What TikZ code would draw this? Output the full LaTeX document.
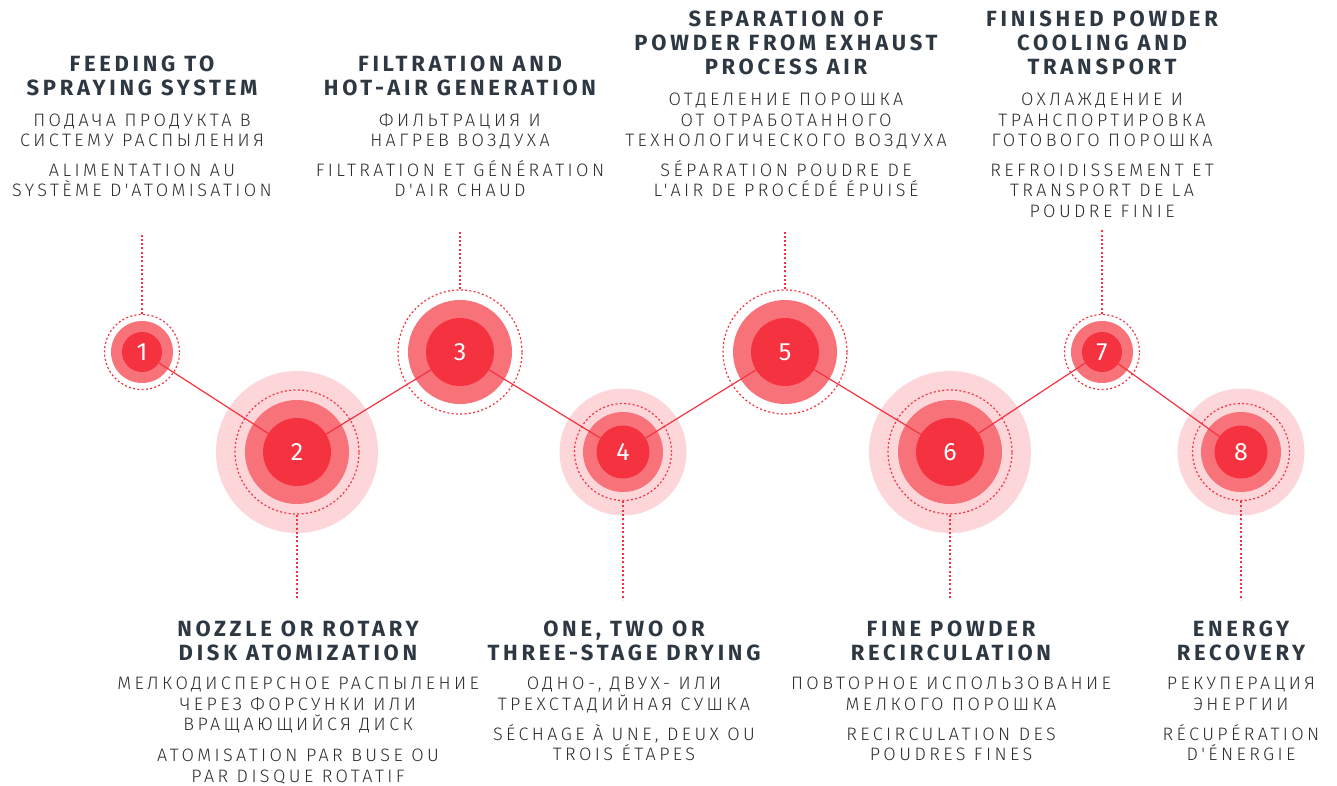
\documentclass[tikz,border=0pt]{standalone}
\usepackage{fontspec}
\newfontfamily\titlef{Fira Sans}[LetterSpace=17]
\newfontfamily\bodyf{Fira Sans Light}[LetterSpace=19]
\newfontfamily\numf{Fira Sans}
\definecolor{redA}{RGB}{245,50,64}
\definecolor{redB}{RGB}{248,114,122}
\definecolor{redC}{RGB}{253,214,218}
\definecolor{ink}{RGB}{46,56,66}
\definecolor{bodygray}{RGB}{45,45,45}
\tikzset{
  palec/.style={circle, fill=redC, inner sep=0pt, minimum size=#1},
  midc/.style={circle, fill=redB, inner sep=0pt, minimum size=#1},
  ringc/.style={circle, draw=redA, line width=1.2pt, dash pattern=on 2pt off 2.3pt, inner sep=0pt, minimum size=#1},
  numc/.style={circle, fill=redA, inner sep=0pt, minimum size=#1, text=white, font=\numf\fontsize{25}{25}\selectfont},
  conn/.style={draw=redA, line width=1.2pt},
  vline/.style={draw=redA, line width=1.2pt, dash pattern=on 2pt off 2.3pt},
  ttl/.style={font={\titlef\bfseries\fontsize{22}{24}\selectfont}, text=ink, align=center, inner sep=0pt, anchor=north},
  bdy/.style={font={\bodyf\fontsize{18}{20.5}\selectfont}, text=bodygray, align=center, inner sep=0pt, anchor=north},
}
\newcommand{\fl}{\rule{0pt}{20pt}}
\begin{document}
\begin{tikzpicture}[x=1pt,y=-1pt]
\useasboundingbox (0,0) rectangle (1337,785);
% halos
\node[palec=162pt] (p2) at (297,452) {};
\node[palec=127pt] (p4) at (623,452) {};
\node[palec=162pt] (p6) at (950,452) {};
\node[palec=127pt] (p8) at (1241,452) {};
% middle discs
\node[midc=62pt] (m1) at (142,352) {};
\node[midc=104pt] (m2) at (297,452) {};
\node[midc=104pt] (m3) at (460,352) {};
\node[midc=80pt] (m4) at (623,452) {};
\node[midc=104pt] (m5) at (785,352) {};
\node[midc=104pt] (m6) at (950,452) {};
\node[midc=62pt] (m7) at (1102,352) {};
\node[midc=80pt] (m8) at (1241,452) {};
% dotted rings
\node[ringc=75pt] (r1) at (142,352) {};
\node[ringc=124pt] (r2) at (297,452) {};
\node[ringc=124pt] (r3) at (460,352) {};
\node[ringc=97pt] (r4) at (623,452) {};
\node[ringc=124pt] (r5) at (785,352) {};
\node[ringc=124pt] (r6) at (950,452) {};
\node[ringc=75pt] (r7) at (1102,352) {};
\node[ringc=97pt] (r8) at (1241,452) {};
% leader ends
\coordinate (e1) at (142,233);
\coordinate (e3) at (460,230);
\coordinate (e5) at (785,230);
\coordinate (e7) at (1102,230);
\coordinate (e2) at (297,600);
\coordinate (e4) at (623,600);
\coordinate (e6) at (950,600);
\coordinate (e8) at (1241,600);
\draw[vline] (r1.north) -- (e1);
\draw[vline] (r3.north) -- (e3);
\draw[vline] (r5.north) -- (e5);
\draw[vline] (r7.north) -- (e7);
\draw[vline] (r2.south) -- (e2);
\draw[vline] (r4.south) -- (e4);
\draw[vline] (r6.south) -- (e6);
\draw[vline] (r8.south) -- (e8);
% number discs
\node[numc=40pt] (n1) at (142,352) {1};
\node[numc=68pt] (n2) at (297,452) {2};
\node[numc=68pt] (n3) at (460,352) {3};
\node[numc=53pt] (n4) at (623,452) {4};
\node[numc=68pt] (n5) at (785,352) {5};
\node[numc=68pt] (n6) at (950,452) {6};
\node[numc=40pt] (n7) at (1102,352) {7};
\node[numc=53pt] (n8) at (1241,452) {8};
% connectors
\draw[conn] (n1) -- (n2);
\draw[conn] (n2) -- (n3);
\draw[conn] (n3) -- (n4);
\draw[conn] (n4) -- (n5);
\draw[conn] (n5) -- (n6);
\draw[conn] (n6) -- (n7);
\draw[conn] (n7) -- (n8);
% column 1
\node[ttl] (t1) at (142,51) {\fl FEEDING TO\\SPRAYING SYSTEM};
\node[bdy] (ru1) at (142,106) {\fl ПОДАЧА ПРОДУКТА В\\СИСТЕМУ РАСПЫЛЕНИЯ};
\node[bdy] (fr1) at (142,156) {\fl ALIMENTATION AU\\SYSTÈME D'ATOMISATION};
% column 3
\node[ttl] (t3) at (460,51) {\fl FILTRATION AND\\HOT-AIR GENERATION};
\node[bdy] (ru3) at (460,106) {\fl ФИЛЬТРАЦИЯ И\\НАГРЕВ ВОЗДУХА};
\node[bdy] (fr3) at (460,156) {\fl FILTRATION ET GÉNÉRATION\\D'AIR CHAUD};
% column 5
\node[ttl] (t5) at (786,6.5) {\fl SEPARATION OF\\POWDER FROM EXHAUST\\PROCESS AIR};
\node[bdy] (ru5) at (786,85.5) {\fl ОТДЕЛЕНИЕ ПОРОШКА\\ОТ ОТРАБОТАННОГО\\ТЕХНОЛОГИЧЕСКОГО ВОЗДУХА};
\node[bdy] (fr5) at (786,156) {\fl SÉPARATION POUDRE DE\\L'AIR DE PROCÉDÉ ÉPUISÉ};
% column 7
\node[ttl] (t7) at (1102,6.5) {\fl FINISHED POWDER\\COOLING AND\\TRANSPORT};
\node[bdy] (ru7) at (1102,85.5) {\fl ОХЛАЖДЕНИЕ И\\ТРАНСПОРТИРОВКА\\ГОТОВОГО ПОРОШКА};
\node[bdy] (fr7) at (1102,156) {\fl REFROIDISSEMENT ET\\TRANSPORT DE LA\\POUDRE FINIE};
% column 2
\node[ttl] (t2) at (298,616.5) {\fl NOZZLE OR ROTARY\\DISK ATOMIZATION};
\node[bdy] (ru2) at (298,669.5) {\fl МЕЛКОДИСПЕРСНОЕ РАСПЫЛЕНИЕ\\ЧЕРЕЗ ФОРСУНКИ ИЛИ\\ВРАЩАЮЩИЙСЯ ДИСК};
\node[bdy] (fr2) at (298,741.5) {\fl ATOMISATION PAR BUSE OU\\PAR DISQUE ROTATIF};
% column 4
\node[ttl] (t4) at (624,616.5) {\fl ONE, TWO OR\\THREE-STAGE DRYING};
\node[bdy] (ru4) at (624,669.5) {\fl ОДНО-, ДВУХ- ИЛИ\\ТРЕХСТАДИЙНАЯ СУШКА};
\node[bdy] (fr4) at (624,720) {\fl SÉCHAGE À UNE, DEUX OU\\TROIS ÉTAPES};
% column 6
\node[ttl] (t6) at (951,616.5) {\fl FINE POWDER\\RECIRCULATION};
\node[bdy] (ru6) at (951,669.5) {\fl ПОВТОРНОЕ ИСПОЛЬЗОВАНИЕ\\МЕЛКОГО ПОРОШКА};
\node[bdy] (fr6) at (951,720) {\fl RECIRCULATION DES\\POUDRES FINES};
% column 8
\node[ttl] (t8) at (1241,616.5) {\fl ENERGY\\RECOVERY};
\node[bdy] (ru8) at (1241,669.5) {\fl РЕКУПЕРАЦИЯ\\ЭНЕРГИИ};
\node[bdy] (fr8) at (1241,720) {\fl RÉCUPÉRATION\\D'ÉNERGIE};
\end{tikzpicture}
\end{document}
